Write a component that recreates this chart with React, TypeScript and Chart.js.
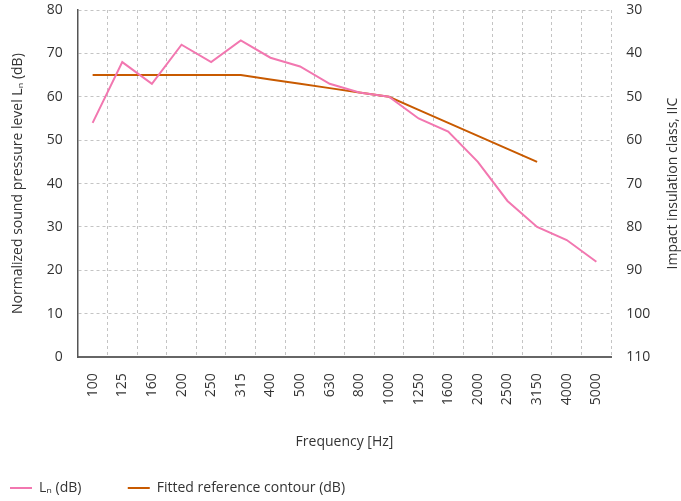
import React, { useEffect, useRef } from "react";
import { Chart, registerables } from "chart.js";

Chart.register(...registerables);

const frequencies = ["100","125","160","200","250","315","400","500","630","800","1000","1250","1600","2000","2500","3150","4000","5000"];
const lnValues = [54, 68, 63, 72, 68, 73, 69, 67, 63, 61, 60, 55, 52, 45, 36, 30, 27, 22];
const contourValues = [65, 65, 65, 65, 65, 65, 64, 63, 62, 61, 60, 57, 54, 51, 48, 45, null, null];
const rightTitle = "Impact insulation class, IIC";

const FONT = "'Open Sans', sans-serif";
const TEXT = "#333333";
const GRID = "#c4c4c4";

const rightTitlePlugin = {
  id: "rightTitle",
  afterDraw(chart: any) {
    const s = chart.scales.y1;
    const ctx = chart.ctx;
    ctx.save();
    ctx.font = `14px ${FONT}`;
    ctx.fillStyle = TEXT;
    ctx.textAlign = "center";
    ctx.textBaseline = "middle";
    const x = s.right - 8.4;
    const y = (chart.chartArea.top + chart.chartArea.bottom) / 2;
    ctx.translate(x, y);
    ctx.rotate(-Math.PI / 2);
    ctx.fillText(rightTitle, 0, 0);
    ctx.restore();
  },
};

export default function App() {
  const ref = useRef<HTMLCanvasElement>(null);
  useEffect(() => {
    const chart = new Chart(ref.current!, {
      type: "line",
      data: {
        labels: frequencies,
        datasets: [
          {
            label: "Lₙ (dB)          ",
            data: lnValues,
            borderColor: "#F277B0",
            backgroundColor: "#F277B0",
            borderWidth: 2,
            pointRadius: 0,
            tension: 0,
            yAxisID: "y",
          },
          {
            label: "Fitted reference contour (dB)",
            data: contourValues,
            borderColor: "#C85A00",
            backgroundColor: "#C85A00",
            borderWidth: 2,
            pointRadius: 0,
            tension: 0,
            yAxisID: "y",
          },
        ],
      },
      options: {
        animation: false,
        responsive: false,
        maintainAspectRatio: false,
        layout: { padding: { left: 0, right: 0, top: 10, bottom: -4 } },
        plugins: {
          tooltip: { enabled: false },
          legend: {
            position: "bottom",
            align: "start",
            labels: {
              usePointStyle: true,
              pointStyle: "line",
              pointStyleWidth: 22,
              boxHeight: 2,
              padding: 10,
              color: TEXT,
              font: { family: FONT, size: 14 },
            },
          },
        },
        scales: {
          x: {
            offset: true,
            grid: { color: GRID, drawTicks: true, tickLength: 16, tickColor: "rgba(0,0,0,0)", offset: true },
            border: { display: true, color: "#666666", width: 2, dash: [3, 3] } as any,
            ticks: { color: TEXT, font: { family: FONT, size: 14 }, minRotation: 90, maxRotation: 90, padding: 0, autoSkip: false },
            title: { display: true, text: "Frequency [Hz]", color: TEXT, font: { family: FONT, size: 14 }, padding: { top: 28, bottom: 21 } },
          },
          y: {
            position: "left",
            min: 0,
            max: 80,
            ticks: { stepSize: 10, color: TEXT, font: { family: FONT, size: 14 }, padding: 0 },
            grid: { color: GRID, drawTicks: true, tickLength: 15, tickColor: "rgba(0,0,0,0)" },
            border: { display: true, color: "#555555", width: 1.5, dash: [3, 3] } as any,
            title: { display: true, text: "Normalized sound pressure level Lₙ (dB)", color: TEXT, font: { family: FONT, size: 14 }, padding: { top: 10, bottom: 20 } },
          },
          y1: {
            position: "right",
            min: 30,
            max: 110,
            reverse: true,
            ticks: { stepSize: 10, color: TEXT, font: { family: FONT, size: 14 }, padding: 0 },
            grid: { drawOnChartArea: false, drawTicks: true, tickLength: 15, tickColor: "rgba(0,0,0,0)" },
            border: { display: false },
            title: { display: true, text: rightTitle, color: "rgba(0,0,0,0)", font: { family: FONT, size: 14 }, padding: { top: 10, bottom: 4 } },
          },
        },
      },
      plugins: [rightTitlePlugin],
    });
    return () => chart.destroy();
  }, []);
  return (
    <div style={{ position: "absolute", left: 0, top: 0, width: 681, height: 501 }}>
      <canvas ref={ref} width={681} height={501} style={{ width: 681, height: 501 }} />
    </div>
  );
}
